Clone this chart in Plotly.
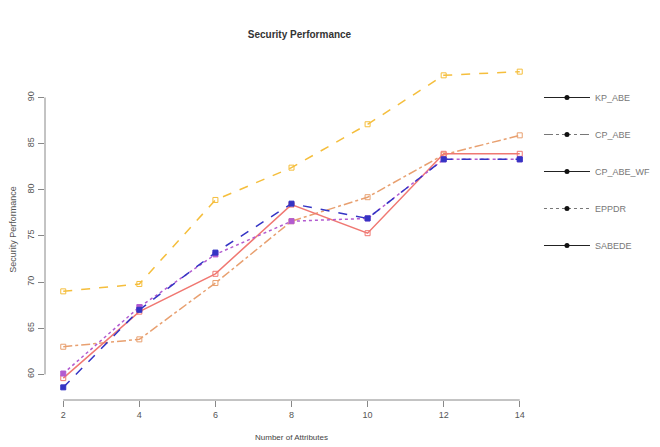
import plotly.graph_objects as go

attributes = [2, 4, 6, 8, 10, 12, 14]
kp_abe = [69.0, 69.8, 78.9, 82.4, 87.1, 92.4, 92.8]
cp_abe = [63.0, 63.8, 69.9, 76.6, 79.2, 83.8, 85.9]
cp_abe_wf = [59.6, 66.8, 70.9, 78.4, 75.3, 83.9, 83.9]
eppdr = [60.1, 67.3, 73.0, 76.6, 76.9, 83.3, 83.3]
sabede = [58.6, 67.0, 73.2, 78.5, 76.9, 83.3, 83.3]
series_names = ["KP_ABE", "CP_ABE", "CP_ABE_WF", "EPPDR", "SABEDE"]
y_ticks = [60, 65, 70, 75, 80, 85, 90]

FONT = "Liberation Sans Narrow, Liberation Sans, Arial, sans-serif"
TXT = "#555555"

fig = go.Figure()

styles = [
    (kp_abe, "#F5BE3C", "dash", "square-open"),
    (cp_abe, "#E8A070", "dashdot", "square-open"),
    (cp_abe_wf, "#F07872", "solid", "square-open"),
    (eppdr, "#B25BD0", "dot", "square"),
    (sabede, "#3434C4", "dash", "square"),
]
for name, (vals, col, dash, sym) in zip(series_names, styles):
    fig.add_trace(go.Scatter(
        x=attributes, y=vals, mode="lines+markers", name=name,
        line=dict(color=col, width=1.5, dash=dash),
        marker=dict(color=col, size=5, symbol=sym, line=dict(color=col, width=1)),
        showlegend=False,
    ))

legend_dash = ["solid", "dashdot", "solid", "dot", "solid"]
legend_col = ["#222222", "#777777", "#222222", "#777777", "#222222"]
for i, (name, dash, col) in enumerate(zip(series_names, legend_dash, legend_col)):
    fig.add_trace(go.Scatter(
        x=[None], y=[None], mode="lines+markers", name=name,
        line=dict(color=col, width=1, dash=dash),
        marker=dict(color="#111111", size=5, symbol="circle"),
        legendgroup=f"g{i}", showlegend=True,
    ))

# R-style axis lines spanning first to last tick
fig.add_shape(type="line", xref="x", yref="paper", x0=attributes[0], x1=attributes[-1],
              y0=0, y1=0, line=dict(color="#888888", width=1))
fig.add_shape(type="line", xref="paper", yref="y", x0=0, x1=0,
              y0=y_ticks[0], y1=y_ticks[-1], line=dict(color="#888888", width=1))

fig.update_layout(
    width=660, height=447,
    paper_bgcolor="white", plot_bgcolor="white",
    margin=dict(l=37, r=114, t=51, b=55),
    font=dict(family=FONT, color=TXT, size=9),
    title=dict(text="<b>Security Performance</b>", x=(37 + 509 / 2) / 660, xanchor="center",
               y=1 - 26 / 447, yanchor="middle",
               font=dict(family=FONT, size=10, color="#333333")),
    xaxis=dict(range=[1.52, 14.48], tickvals=attributes, showgrid=False, zeroline=False,
               showline=False, ticks="outside", ticklen=6, tickcolor="#888888",
               tickfont=dict(size=9, color=TXT), automargin=False,
               title=dict(text="Number of Attributes", font=dict(size=8, color="#444444"), standoff=15)),
    yaxis=dict(range=[57.23, 94.17], tickvals=y_ticks, showgrid=False, zeroline=False,
               showline=False, ticks="outside", ticklen=6, tickcolor="#888888", tickangle=-90,
               tickfont=dict(size=9, color=TXT), automargin=False,
               title=dict(text="Security Performance", font=dict(size=9, color="#555555"), standoff=8)),
    legend=dict(x=1.002, xanchor="left", y=0.9296, yanchor="top",
                font=dict(size=9, color="#777777"), tracegroupgap=18, itemwidth=46,
                bgcolor="rgba(0,0,0,0)"),
)

fig.write_html("out.html")
